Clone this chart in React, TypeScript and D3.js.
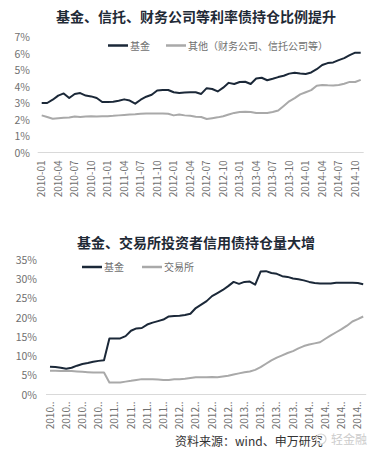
import React from "react";
import * as d3 from "d3";

const title1 = "基金、信托、财务公司等利率债持仓比例提升";
const title2 = "基金、交易所投资者信用债持仓量大增";
const seriesNames1 = ["基金", "其他（财务公司、信托公司等）"];
const seriesNames2 = ["基金", "交易所"];
const source = "资料来源：wind、申万研究";
const watermark = "轻金融";

const ticks1 = ["2010-01","2010-04","2010-07","2010-10","2011-01","2011-04","2011-07","2011-10","2012-01","2012-04","2012-07","2012-10","2013-01","2013-04","2013-07","2013-10","2014-01","2014-04","2014-07","2014-10"];
const ticks2 = ["2010..","2010..","2010..","2010..","2011..","2011..","2011..","2011..","2012..","2012..","2012..","2012..","2013..","2013..","2013..","2013..","2014..","2014..","2014..","2014.."];
const yTicks1 = [0, 1, 2, 3, 4, 5, 6, 7];
const yTicks2 = [0, 5, 10, 15, 20, 25, 30, 35];

// monthly, 2010-01 .. 2014-11 (%)
const fund1 = [3.0,3.0,3.2,3.45,3.58,3.3,3.55,3.6,3.45,3.4,3.3,3.06,3.06,3.08,3.14,3.22,3.15,2.96,3.2,3.38,3.5,3.76,3.79,3.79,3.65,3.6,3.63,3.65,3.65,3.55,3.9,3.85,3.7,3.93,4.22,4.15,4.27,4.29,4.15,4.48,4.53,4.38,4.47,4.57,4.65,4.78,4.83,4.79,4.76,4.85,5.05,5.3,5.42,5.46,5.6,5.72,5.9,6.05,6.05];
const other1 = [2.25,2.15,2.05,2.08,2.1,2.12,2.18,2.15,2.18,2.2,2.18,2.2,2.2,2.22,2.25,2.28,2.3,2.32,2.35,2.37,2.37,2.37,2.37,2.35,2.25,2.3,2.25,2.23,2.17,2.15,2.03,2.08,2.13,2.2,2.3,2.4,2.46,2.47,2.45,2.39,2.39,2.39,2.45,2.55,2.82,3.1,3.3,3.52,3.65,3.78,4.05,4.09,4.07,4.06,4.09,4.17,4.28,4.27,4.4];
const fund2 = [7.24,7.15,6.95,6.7,6.95,7.5,7.95,8.2,8.5,8.75,8.9,14.6,14.6,14.6,15.2,16.6,17.2,17.3,18.2,18.7,19.1,19.5,20.3,20.4,20.5,20.7,21.0,22.5,23.4,24.3,25.6,26.4,27.2,28.2,29.3,28.8,29.3,29.4,28.6,32.0,32.1,31.6,31.4,30.8,30.6,30.2,30.0,29.7,29.3,29.0,28.9,28.9,28.9,29.1,29.1,29.1,29.1,29.0,28.7];
const exch2 = [6.2,6.15,6.1,6.1,6.1,6.0,5.9,5.8,5.7,5.7,5.7,3.1,3.1,3.15,3.35,3.55,3.8,4.0,4.0,4.0,3.9,3.75,3.8,3.95,4.0,4.1,4.3,4.5,4.5,4.5,4.55,4.5,4.7,4.9,5.2,5.5,5.8,6.0,6.4,7.1,8.0,8.9,9.6,10.2,10.8,11.3,12.0,12.6,13.0,13.3,13.6,14.5,15.4,16.2,17.0,17.9,19.0,19.6,20.3];

const DARK = "#1b2838";
const GRAY = "#a9a9a9";
const TXT = "#707070";
const FONT = "'Noto Sans CJK SC', 'Noto Sans', sans-serif";

function Panel(props: {
  title: string; titleY: number; names: string[]; a: number[]; b: number[];
  ticks: string[]; yTicks: number[]; x0: number; x1: number; yTop: number; yBot: number;
  yMax: number; labelX: number; legend: number[]; legendY: number; tickLabelGap: number;
}) {
  const n = props.a.length;
  const x = d3.scaleLinear().domain([0, n - 1]).range([props.x0, props.x1]);
  const y = d3.scaleLinear().domain([0, props.yMax]).range([props.yBot, props.yTop]);
  const line = d3.line<number>().x((_, i) => x(i)).y((d) => y(d));
  const [l1, l2] = props.legend;
  return (
    <g fontFamily={FONT}>
      <text x={196} y={props.titleY} textAnchor="middle" fontSize={14} fontWeight="bold" fill="#1f2a36">{props.title}</text>
      {props.yTicks.map((t) => (
        <text key={t} x={props.labelX} y={y(t) + 4} textAnchor="end" fontSize={10.5} fill={TXT}>{t + "%"}</text>
      ))}
      <line x1={props.x0 - 4} x2={props.x1 + 3} y1={props.yBot} y2={props.yBot} stroke="#d9d9d9" strokeWidth={1} />
      {props.ticks.map((t, k) => (
        <text key={k} transform={`translate(${x(k * 3) + 3.5},${props.yBot + props.tickLabelGap}) rotate(-90)`} textAnchor="end" fontSize={10} fill={TXT}>{t}</text>
      ))}
      <path d={line(props.b) || ""} fill="none" stroke={GRAY} strokeWidth={2} strokeLinejoin="round" />
      <path d={line(props.a) || ""} fill="none" stroke={DARK} strokeWidth={2} strokeLinejoin="round" />
      <line x1={l1} x2={l1 + 20} y1={props.legendY} y2={props.legendY} stroke={DARK} strokeWidth={2.5} />
      <text x={l1 + 22} y={props.legendY + 4} fontSize={10} fill={TXT}>{props.names[0]}</text>
      <line x1={l2} x2={l2 + 20} y1={props.legendY} y2={props.legendY} stroke={GRAY} strokeWidth={2.5} />
      <text x={l2 + 22} y={props.legendY + 4} fontSize={10} fill={TXT}>{props.names[1]}</text>
    </g>
  );
}

export default function App() {
  return (
    <svg width={378} height={456} style={{ position: "absolute", left: 0, top: 0, background: "#fff" }}>
      <rect width={378} height={456} fill="#fff" />
      <Panel title={title1} titleY={22} names={seriesNames1} a={fund1} b={other1} ticks={ticks1} yTicks={yTicks1}
        x0={41.7} x1={360.7} yTop={37} yBot={152.5} yMax={7} labelX={30} legend={[108, 166]} legendY={45.5} tickLabelGap={8} />
      <Panel title={title2} titleY={248} names={seriesNames2} a={fund2} b={exch2} ticks={ticks2} yTicks={yTicks2}
        x0={50} x1={363.2} yTop={260} yBot={394.5} yMax={35} labelX={37} legend={[82, 142]} legendY={267} tickLabelGap={7} />
      <text x={175} y={446} fontSize={12} fill="#333" fontFamily={FONT}>{source}</text>
      <circle cx={321} cy={439} r={5} fill="none" stroke="#d5d5d5" strokeWidth={1.2} />
      <text x={331} y={444} fontSize={12} fill="#cccccc" fontFamily={FONT}>{watermark}</text>
    </svg>
  );
}
